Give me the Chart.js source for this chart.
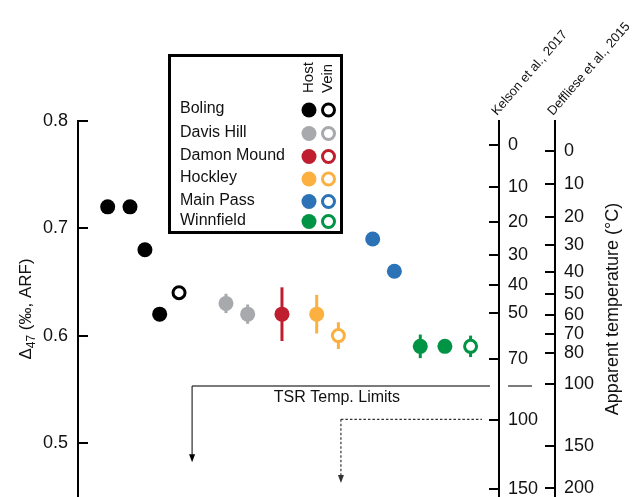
<!DOCTYPE html>
<html>
<head>
<meta charset="utf-8">
<script src="https://cdn.jsdelivr.net/npm/chart.js@4.4.1/dist/chart.umd.min.js"></script>
<style>
  html, body { margin: 0; padding: 0; background: #fff; }
  canvas { display: block; }
</style>
</head>
<body>
<canvas id="d47Chart" width="632" height="497"></canvas>
<script>
// values
const sites = ['Boling', 'Davis Hill', 'Damon Mound', 'Hockley', 'Main Pass', 'Winnfield'];
const siteColors = ['#000000', '#a7a9ac', '#be1e2d', '#fbb040', '#2b73b6', '#009444'];

// sample position (hidden x axis), Δ47 and error, per site
const hostX   = [[1.41, 2.47, 3.18, 3.88], [7.03, 8.06], [9.69], [11.34], [14.0, 15.03], [16.26, 17.43]];
const hostD47 = [[0.72, 0.72, 0.68, 0.62], [0.63, 0.62], [0.62], [0.62], [0.69, 0.66], [0.59, 0.59]];
const hostErr = [[0, 0, 0, 0], [0.009, 0.009], [0.025], [0.018], [0, 0], [0.011, 0]];
const veinX   = [[4.80], [], [], [12.37], [], [18.65]];
const veinD47 = [[0.64], [], [], [0.60], [], [0.59]];
const veinErr = [[0], [], [], [0.0125], [], [0.010]];

// axis ticks
const d47Ticks = [0.5, 0.6, 0.7, 0.8];
const kelsonTemps = [0, 10, 20, 30, 40, 50, 70, 100, 150];
const kelsonD47 = [0.7776, 0.7385, 0.7059, 0.6751, 0.6472, 0.6211, 0.5782, 0.5213, 0.4570];
const deflieseTemps = [0, 10, 20, 30, 40, 50, 60, 70, 80, 100, 150, 200];
const deflieseD47 = [0.772, 0.7413, 0.7105, 0.6844, 0.6593, 0.6388, 0.6192, 0.6015, 0.5838, 0.5549, 0.4971, 0.4580];
const calibrationNames = ['Kelson et al., 2017', 'Deffliese et al., 2015'];

// TSR temperature limits (Δ47 of the 100 °C line for each calibration)
const tsrSolidD47 = 0.553;
const tsrDottedD47 = 0.522;

const FONT = "'Liberation Sans', Arial, Helvetica, sans-serif";
const TEXT = '#111';

const datasets = [];
sites.forEach((site, i) => {
  datasets.push({
    label: site + ' host',
    data: hostX[i].map((x, j) => ({ x: x, y: hostD47[i][j], err: hostErr[i][j] })),
    errColor: siteColors[i],
    pointRadius: 7.5,
    pointBackgroundColor: siteColors[i],
    pointBorderWidth: 0,
    pointHoverRadius: 7.5
  });
  if (veinX[i].length) {
    datasets.push({
      label: site + ' vein',
      data: veinX[i].map((x, j) => ({ x: x, y: veinD47[i][j], err: veinErr[i][j] })),
      errColor: siteColors[i],
      pointRadius: 6,
      pointBackgroundColor: '#ffffff',
      pointBorderColor: siteColors[i],
      pointBorderWidth: 3,
      pointHoverRadius: 6
    });
  }
});

function tightAxis(width) {
  return s => {
    s.width = width;
    s.paddingTop = 0;
    s.paddingBottom = 0;
  };
}

const errorBars = {
  id: 'errorBars',
  beforeDatasetsDraw(chart) {
    const { ctx, scales: { y } } = chart;
    chart.data.datasets.forEach((ds, i) => {
      const meta = chart.getDatasetMeta(i);
      ds.data.forEach((p, j) => {
        if (!p.err) return;
        const el = meta.data[j];
        ctx.save();
        ctx.strokeStyle = ds.errColor;
        ctx.lineWidth = 3;
        ctx.beginPath();
        ctx.moveTo(el.x, y.getPixelForValue(p.y - p.err));
        ctx.lineTo(el.x, y.getPixelForValue(p.y + p.err));
        ctx.stroke();
        ctx.restore();
      });
    });
  }
};

function arrowDown(ctx, x, y0, y1) {
  ctx.beginPath();
  ctx.moveTo(x, y0);
  ctx.lineTo(x, y1 - 7);
  ctx.stroke();
  ctx.save();
  ctx.setLineDash([]);
  ctx.beginPath();
  ctx.moveTo(x - 3, y1 - 8);
  ctx.lineTo(x + 3, y1 - 8);
  ctx.lineTo(x, y1);
  ctx.closePath();
  ctx.fill();
  ctx.restore();
}

const tsrLimits = {
  id: 'tsrLimits',
  afterDatasetsDraw(chart) {
    const { ctx, scales: { x, y } } = chart;
    const ys = y.getPixelForValue(tsrSolidD47);
    const yd = y.getPixelForValue(tsrDottedD47);
    ctx.save();
    // solid limit
    ctx.strokeStyle = '#7a7a7a';
    ctx.lineWidth = 2;
    ctx.beginPath();
    ctx.moveTo(x.getPixelForValue(5.42), ys);
    ctx.lineTo(x.getPixelForValue(19.57), ys);
    ctx.moveTo(x.getPixelForValue(20.43), ys);
    ctx.lineTo(x.getPixelForValue(21.57), ys);
    ctx.stroke();
    ctx.strokeStyle = '#000';
    ctx.fillStyle = '#000';
    ctx.lineWidth = 1;
    arrowDown(ctx, x.getPixelForValue(5.42), ys, y.getPixelForValue(0.482));
    // dotted limit
    ctx.strokeStyle = '#333';
    ctx.fillStyle = '#333';
    ctx.lineWidth = 1.2;
    ctx.setLineDash([2.5, 2]);
    ctx.beginPath();
    ctx.moveTo(x.getPixelForValue(12.49), yd);
    ctx.lineTo(x.getPixelForValue(19.19), yd);
    ctx.stroke();
    arrowDown(ctx, x.getPixelForValue(12.49), yd, y.getPixelForValue(0.4627));
    ctx.setLineDash([]);
    ctx.fillStyle = TEXT;
    ctx.font = '16px ' + FONT;
    ctx.textAlign = 'center';
    ctx.textBaseline = 'middle';
    ctx.fillText('TSR Temp. Limits', x.getPixelForValue(12.3), ys + 12);
    ctx.restore();
  }
};

const siteLegend = {
  id: 'siteLegend',
  afterDraw(chart) {
    const { ctx } = chart;
    const rows = [110, 133.5, 156.5, 179, 201.5, 221.5];
    ctx.save();
    ctx.fillStyle = '#fff';
    ctx.fillRect(169, 55, 173, 178);
    ctx.strokeStyle = '#000';
    ctx.lineWidth = 3;
    ctx.strokeRect(169.5, 55.5, 172, 177);
    ctx.fillStyle = TEXT;
    ctx.font = '15px ' + FONT;
    ctx.textAlign = 'left';
    ctx.textBaseline = 'middle';
    [['Host', 309], ['Vein', 328]].forEach(([t, cx]) => {
      ctx.save();
      ctx.translate(cx, 93);
      ctx.rotate(-Math.PI / 2);
      ctx.fillText(t, 0, 0);
      ctx.restore();
    });
    ctx.font = '16px ' + FONT;
    sites.forEach((s, i) => {
      ctx.fillStyle = TEXT;
      ctx.fillText(s, 180, rows[i] - 1);
      ctx.beginPath();
      ctx.arc(309, rows[i], 7.5, 0, Math.PI * 2);
      ctx.fillStyle = siteColors[i];
      ctx.fill();
      ctx.beginPath();
      ctx.arc(328.5, rows[i], 6, 0, Math.PI * 2);
      ctx.fillStyle = '#fff';
      ctx.fill();
      ctx.strokeStyle = siteColors[i];
      ctx.lineWidth = 3;
      ctx.stroke();
    });
    ctx.restore();
  }
};

const sideLabels = {
  id: 'sideLabels',
  afterDraw(chart) {
    const { ctx, chartArea, scales } = chart;
    const midY = (chartArea.top + chartArea.bottom) / 2;
    ctx.save();
    ctx.fillStyle = TEXT;
    ctx.font = '13px ' + FONT;
    ctx.textAlign = 'left';
    ctx.textBaseline = 'alphabetic';
    [scales.yK, scales.yD].forEach((s, i) => {
      ctx.save();
      ctx.translate(s.left - 2, chartArea.top - 5);
      ctx.rotate(-49 * Math.PI / 180);
      ctx.fillText(calibrationNames[i], 0, 0);
      ctx.restore();
    });

    // right title
    ctx.save();
    ctx.font = '18px ' + FONT;
    ctx.translate(scales.yD.right - 19, midY);
    ctx.rotate(-Math.PI / 2);
    ctx.textAlign = 'center';
    ctx.textBaseline = 'middle';
    ctx.fillText('Apparent temperature (°C)', 0, 0);
    ctx.restore();

    // left title with a real subscript
    const parts = [['Δ', 17, 0], ['47', 12, 4], [' (‰, ARF)', 17, 0]];
    let total = 0;
    parts.forEach(p => { ctx.font = p[1] + 'px ' + FONT; total += ctx.measureText(p[0]).width; });
    ctx.translate(scales.y.left + 31, midY);
    ctx.rotate(-Math.PI / 2);
    ctx.textAlign = 'left';
    ctx.textBaseline = 'alphabetic';
    let cx = -total / 2;
    parts.forEach(p => {
      ctx.font = p[1] + 'px ' + FONT;
      ctx.fillText(p[0], cx, p[2]);
      cx += ctx.measureText(p[0]).width;
    });
    ctx.restore();
  }
};

const axisGrid = { drawOnChartArea: false, drawTicks: true, tickLength: -10, color: '#000', lineWidth: 2 };
const axisBorder = { display: true, color: '#000', width: 2 };
const tickFont = { size: 18, family: FONT };

new Chart(document.getElementById('d47Chart'), {
  type: 'scatter',
  data: { datasets: datasets },
  options: {
    responsive: false,
    animation: false,
    events: [],
    layout: { autoPadding: false, padding: { top: 121, right: 0, bottom: 0, left: 0 } },
    plugins: { legend: { display: false }, tooltip: { enabled: false } },
    scales: {
      x: { type: 'linear', min: 0, max: 20, display: false },
      y: {
        type: 'linear',
        position: 'left',
        min: 0.4496,
        max: 0.8,
        afterBuildTicks: s => { s.ticks = d47Ticks.map(v => ({ value: v })); },
        afterFit: tightAxis(78),
        grid: axisGrid,
        border: axisBorder,
        ticks: { autoSkip: false, padding: 20, color: TEXT, font: tickFont, callback: v => v.toFixed(1) }
      },
      yK: {
        type: 'linear',
        axis: 'y',
        position: 'right',
        weight: 0,
        min: 0.4496,
        max: 0.8,
        afterBuildTicks: s => { s.ticks = kelsonD47.map(v => ({ value: v })); },
        afterFit: tightAxis(56),
        grid: axisGrid,
        border: axisBorder,
        ticks: { autoSkip: false, padding: 19, color: TEXT, font: tickFont, callback: (v, i) => String(kelsonTemps[i]) }
      },
      yD: {
        type: 'linear',
        axis: 'y',
        position: 'right',
        weight: 1,
        min: 0.4496,
        max: 0.8,
        afterBuildTicks: s => { s.ticks = deflieseD47.map(v => ({ value: v })); },
        afterFit: tightAxis(77),
        grid: axisGrid,
        border: axisBorder,
        ticks: { autoSkip: false, padding: 19, color: TEXT, font: tickFont, callback: (v, i) => String(deflieseTemps[i]) }
      }
    }
  },
  plugins: [errorBars, tsrLimits, siteLegend, sideLabels]
});
</script>
</body>
</html>
